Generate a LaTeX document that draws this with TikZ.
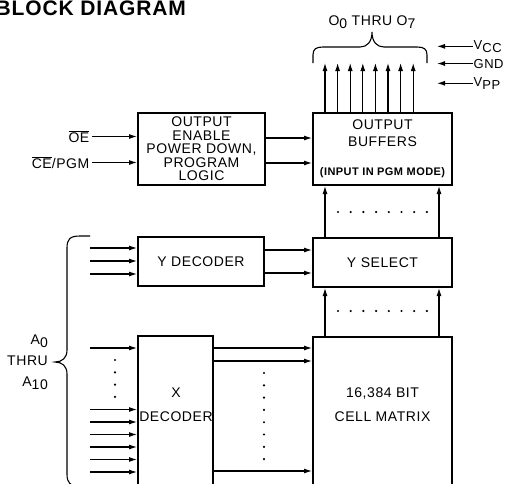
\documentclass[tikz,border=0pt]{standalone}
\usepackage{fontspec}
\setmainfont{Liberation Sans}[LetterSpace=4]
\usetikzlibrary{arrows.meta}
\newcommand{\lowsub}[1]{\raisebox{-3.5pt}{#1}}

\begin{document}
\begin{tikzpicture}[x=1pt, y=-1pt, font=\fontsize{14}{14}\selectfont,
    blk/.style={draw, line width=2pt, inner sep=0pt, align=center},
    sig/.style={line width=1.1pt, -{Latex[length=8pt, width=5pt]}},
    txt/.style={inner sep=0pt, align=center},
    pinlbl/.style={inner sep=0.5pt, anchor=base west, font=\fontsize{13}{13}\selectfont}]
    \path[use as bounding box, clip] (0,0) rectangle (505,483);

    \node[anchor=base east, inner sep=0pt, font=\fontsize{21}{21}\selectfont\bfseries] (title) at (186,15) {BLOCK DIAGRAM};

    \node[blk, minimum width=127pt, minimum height=72pt, font=\fontsize{14}{13.5}\selectfont] (pdl) at (201.5,149) {OUTPUT\\ENABLE\\POWER DOWN,\\PROGRAM\\LOGIC};
    \node[blk, minimum width=139pt, minimum height=72pt] (obuf) at (382.5,149) {};
    \node[txt, font=\fontsize{14}{17}\selectfont] (obuftxt) at (382.5,133.5) {OUTPUT\\BUFFERS};
    \node[txt, font=\fontsize{11}{11}\selectfont\bfseries] (pgmtxt) at (382.5,173) {(INPUT IN PGM MODE)};
    \node[blk, minimum width=126pt, minimum height=49pt] (ydec) at (201,261.5) {Y DECODER};
    \node[blk, minimum width=139pt, minimum height=49pt] (ysel) at (382.5,262.5) {Y SELECT};
    \node[blk, minimum width=75pt, minimum height=200pt, anchor=north] (xdec) at (175.5,335) {};
    \node[blk, minimum width=139pt, minimum height=200pt, anchor=north] (cell) at (382.5,336) {};
    \node[txt, font=\fontsize{14}{24}\selectfont] (xdectxt) at (176,405) {X\\DECODER};
    \node[txt, font=\fontsize{14}{24}\selectfont] (celltxt) at (382.5,405) {16,384 BIT\\CELL MATRIX};

    \node[anchor=east, inner sep=2.5pt] (oe) at (92,136.5) {$\overline{\mbox{OE}}$};
    \node[anchor=east, inner sep=2.5pt] (ce) at (92,162.5) {$\overline{\mbox{CE}}$/PGM};
    \draw[sig] (oe.east) -- (oe.east -| pdl.west);
    \draw[sig] (ce.east) -- (ce.east -| pdl.west);
    \foreach \y in {138,163} \draw[sig] (pdl.east |- 0,\y) -- (obuf.west |- 0,\y);

    \foreach \i in {0,...,7} {
        \coordinate (q\i) at (325+12.6*\i,63);
        \draw[sig] (q\i |- obuf.north) -- (q\i);
    }
    \draw[line width=1.1pt] (313,63) -- (313,55) .. controls (313,49) and (316,47) .. (323,47) -- (360,47)
        .. controls (367,47) and (372,42) .. (372,32) .. controls (372,42) and (377,47) .. (384,47) -- (417,47)
        .. controls (424,47) and (427,49) .. (427,55) -- (427,63);
    \node[anchor=base, inner sep=0pt] (obus) at (372,25) {O\lowsub{0} THRU O\lowsub{7}};

    \node[pinlbl] (vcc) at (473,49) {V\lowsub{CC}};
    \node[pinlbl] (gnd) at (473,68) {GND};
    \node[pinlbl] (vpp) at (473,86) {V\lowsub{PP}};
    \coordinate (pw) at (437,0);
    \foreach \p in {vcc,gnd,vpp} \draw[sig] (\p.west) -- (\p.west -| pw);

    \coordinate (cl) at (325,0);
    \coordinate (cr) at (439,0);
    \foreach \c in {cl,cr} {
        \draw[sig] (ysel.north -| \c) -- (obuf.south -| \c);
        \draw[sig] (cell.north -| \c) -- (ysel.south -| \c);
    }
    \foreach \i in {0,...,7} {
        \fill (338+12.7*\i,212) circle (1.2pt);
        \fill (338+12.7*\i,311) circle (1.2pt);
        \fill (264,373+12.3*\i) circle (1.2pt);
    }
    \foreach \i in {0,...,3} \fill (115,360+12.3*\i) circle (1.2pt);

    \foreach \y [count=\i] in {248,261,274} {
        \coordinate (ya\i) at (90,\y);
        \draw[sig] (ya\i) -- (ya\i -| ydec.west);
    }
    \foreach \y in {250,273} \draw[sig] (ydec.east |- 0,\y) -- (ysel.west |- 0,\y);
    \foreach \y [count=\i] in {348,409.5,422,434.5,447,459.5,472} {
        \coordinate (xa\i) at (90,\y);
        \draw[sig] (xa\i) -- (xa\i -| xdec.west);
    }
    \foreach \y in {348,361,471} \draw[sig] (xdec.east |- 0,\y) -- (cell.west |- 0,\y);

    \draw[line width=1.1pt] (90,236) -- (80,236) .. controls (70,236) and (67,239) .. (67,248) -- (67,350)
        .. controls (67,358) and (62,362) .. (55,362) .. controls (62,362) and (67,366) .. (67,374) -- (67,474)
        .. controls (67,483) and (70,486) .. (80,486) -- (90,486);
    \node[txt, align=right, anchor=east, font=\fontsize{14}{21}\selectfont] (addr) at (48,362) {A\lowsub{0}\\THRU\\A\lowsub{10}};
\end{tikzpicture}
\end{document}
